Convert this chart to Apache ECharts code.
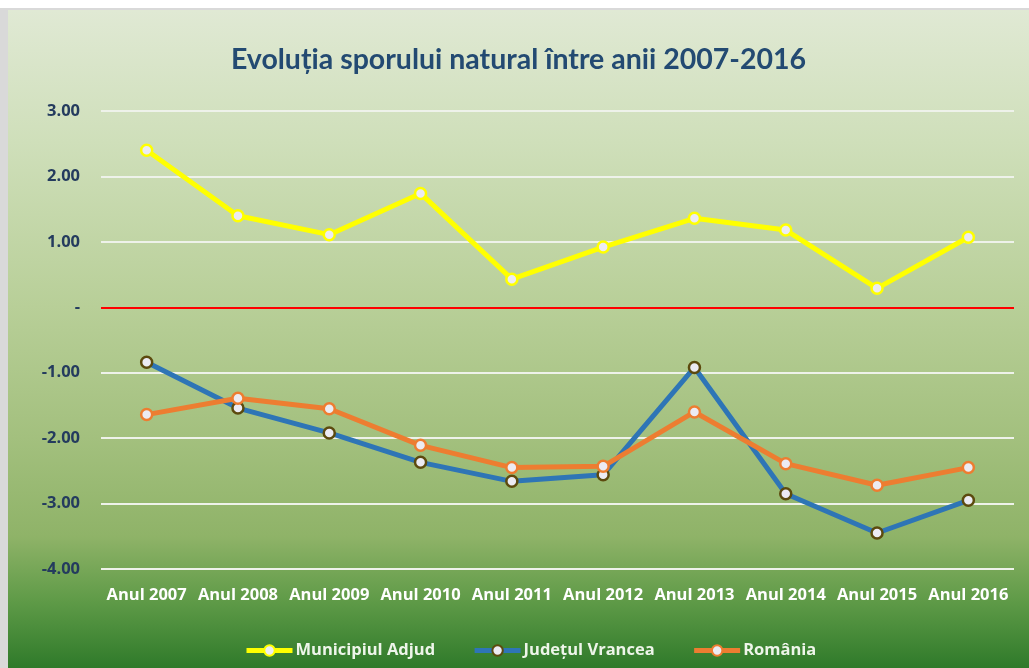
<!DOCTYPE html>
<html>
<head>
<meta charset="utf-8">
<script src="https://cdn.jsdelivr.net/npm/echarts@6/dist/echarts.min.js"></script>
<style>
html,body{margin:0;padding:0;background:#fff;width:1029px;height:668px;overflow:hidden;}
#frame{position:absolute;left:0;top:8px;width:1029px;height:660px;background:#d9d9d9;}
#chart{position:absolute;left:8px;top:10px;width:1021px;height:658px;
background:linear-gradient(to bottom,#e0e9d4 0%,#cfdfba 20%,#b8cf98 45%,#a3c07e 65%,#8fb368 80%,#5e9a47 90%,#2f7a2a 100%);}
</style>
</head>
<body>
<div id="frame"></div>
<div id="chart"></div>
<script>
const titleText = "Evoluția sporului natural între anii 2007-2016";
const categories = ["Anul 2007","Anul 2008","Anul 2009","Anul 2010","Anul 2011","Anul 2012","Anul 2013","Anul 2014","Anul 2015","Anul 2016"];
const seriesNames = ["Municipiul Adjud","Județul Vrancea","România"];
const adjud = [2.40, 1.40, 1.11, 1.74, 0.43, 0.92, 1.36, 1.18, 0.29, 1.07];
const vrancea = [-0.84, -1.54, -1.92, -2.37, -2.66, -2.56, -0.92, -2.85, -3.45, -2.95];
const romania = [-1.64, -1.39, -1.55, -2.11, -2.45, -2.43, -1.60, -2.39, -2.72, -2.45];

const chart = echarts.init(document.getElementById('chart'), null, {renderer:'canvas'});
function mkSeries(name, data, color, border, extra){
  return Object.assign({
    name: name, type: 'line', data: data,
    symbol: 'circle', symbolSize: 11,
    lineStyle: {color: color, width: 5},
    itemStyle: {color: '#ecebf3', borderColor: border, borderWidth: 2.5},
    emphasis: {disabled: true},
    z: 3
  }, extra||{});
}
chart.setOption({
  backgroundColor: 'transparent',
  animation: false,
  title: {
    text: titleText, left: 'center', top: 30,
    textStyle: {fontFamily: 'Lato', fontWeight: 'bold', fontSize: 28.5, color: '#234a72'}
  },
  grid: {left: 93, right: 15, top: 101, bottom: 99, containLabel: false},
  legend: {
    bottom: 4, left: 231, itemGap: 37, itemWidth: 46, itemHeight: 13,
    data: seriesNames,
    lineStyle: {width: 5},
    textStyle: {color: '#eef5ea', fontFamily: 'Open Sans', fontWeight: 'bold', fontSize: 16.5, padding: [0,0,0,-2]}
  },
  xAxis: {
    type: 'category', data: categories, boundaryGap: true,
    axisLine: {show: false}, axisTick: {show: false},
    axisLabel: {color: '#ffffff', fontFamily: 'Open Sans', fontWeight: 'bold', fontSize: 16.5, margin: 18, interval: 0}
  },
  yAxis: {
    type: 'value', min: -4, max: 3, interval: 1,
    axisLine: {show: false}, axisTick: {show: false},
    splitLine: {lineStyle: {color: '#eef2ea', width: 2}},
    axisLabel: {
      color: '#243b5e', fontFamily: 'Open Sans', fontWeight: 'bold', fontSize: 16.5, margin: 21,
      formatter: v => v === 0 ? '-' : v.toFixed(2)
    }
  },
  series: [
    mkSeries(seriesNames[0], adjud, '#ffff00', '#ffff00', {
      markLine: {
        silent: true, symbol: ['none','none'], label: {show: false},
        lineStyle: {color: '#ff0000', width: 2, type: 'solid'},
        data: [{yAxis: 0}]
      }
    }),
    mkSeries(seriesNames[1], vrancea, '#2e75b6', '#5c4a0e'),
    mkSeries(seriesNames[2], romania, '#ed7d31', '#ed7d31')
  ]
});
</script>
</body>
</html>
